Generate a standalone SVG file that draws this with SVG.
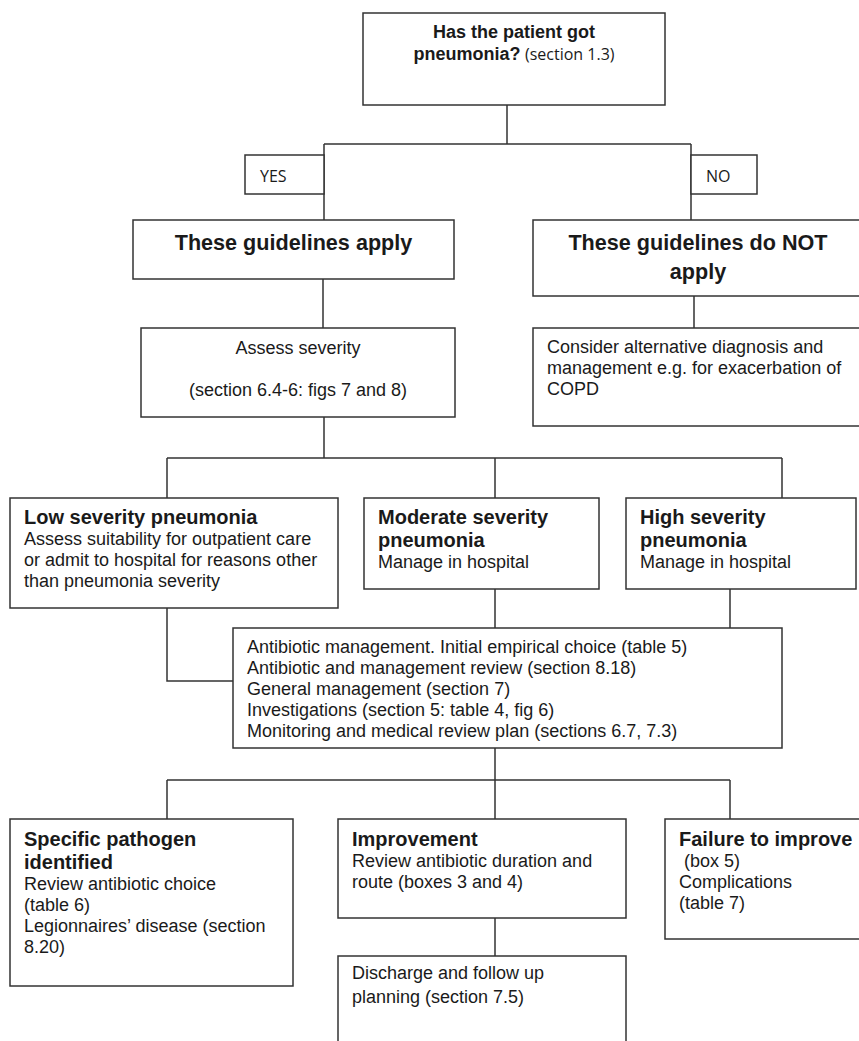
<svg xmlns="http://www.w3.org/2000/svg" width="859" height="1041" viewBox="0 0 859 1041">
<style>
.box{fill:#fff;stroke:#333;stroke-width:1.5}
.ln{fill:none;stroke:#333;stroke-width:1.5}
text{font-family:"Liberation Sans",Arial,sans-serif;fill:#1a1a1a}
.t{font-size:18px}
.h{font-size:20px;font-weight:bold}
.hb{font-size:21.6px;font-weight:bold}
.q{font-size:18px;font-weight:bold}
.c{font-family:"Open Sans","Liberation Sans",sans-serif;font-size:16px;font-weight:normal}
.m{text-anchor:middle}
</style>
<rect width="859" height="1041" fill="#fff"/>
<g id="connectors">
<path class="ln" d="M507,105V144M324,144H691M324,144V220M691,144V220"/>
<path class="ln" d="M323,279V328M694,296V328"/>
<path class="ln" d="M324,417V458M167,458H782M167,458V498M495,458V498M782,458V498"/>
<path class="ln" d="M495,589V628M730,589V628M167,608V681H233"/>
<path class="ln" d="M495,748V819M167,780H730M167,780V819M730,780V819"/>
<path class="ln" d="M495,918V956"/>
</g>
<g id="n-question">
<rect class="box" x="363" y="13" width="302" height="92"/>
<text class="q m" x="514" y="37.5">Has the patient got</text>
<text class="m" x="514" y="59.5"><tspan class="q">pneumonia?</tspan> <tspan class="c">(section 1.3)</tspan></text>
</g>
<g id="n-yes">
<rect class="box" x="245" y="155" width="79" height="39"/>
<text class="c" x="260" y="181.5">YES</text>
</g>
<g id="n-no">
<rect class="box" x="691" y="155" width="66" height="39"/>
<text class="c" x="706" y="181.5">NO</text>
</g>
<g id="n-apply">
<rect class="box" x="133" y="220" width="321" height="59"/>
<text class="hb m" x="293.5" y="249.5">These guidelines apply</text>
</g>
<g id="n-notapply">
<rect class="box" x="533" y="220" width="330" height="76"/>
<text class="hb m" x="698" y="249.5">These guidelines do NOT</text>
<text class="hb m" x="698" y="278.5">apply</text>
</g>
<g id="n-assess">
<rect class="box" x="141" y="328" width="314" height="89"/>
<text class="t m" x="298" y="354">Assess severity</text>
<text class="t m" x="298" y="396">(section 6.4-6: figs 7 and 8)</text>
</g>
<g id="n-alternative">
<rect class="box" x="533" y="328" width="330" height="98"/>
<text class="t" x="547" y="353">Consider alternative diagnosis and</text>
<text class="t" x="547" y="374">management e.g. for exacerbation of</text>
<text class="t" x="547" y="395">COPD</text>
</g>
<g id="n-low">
<rect class="box" x="10" y="498" width="328" height="110"/>
<text class="h" x="24" y="523.5">Low severity pneumonia</text>
<text class="t" x="24" y="544.5">Assess suitability for outpatient care</text>
<text class="t" x="24" y="565.5">or admit to hospital for reasons other</text>
<text class="t" x="24" y="586.5">than pneumonia severity</text>
</g>
<g id="n-moderate">
<rect class="box" x="364" y="498" width="235" height="91"/>
<text class="h" x="378" y="523.5">Moderate severity</text>
<text class="h" x="378" y="546.5">pneumonia</text>
<text class="t" x="378" y="567.5">Manage in hospital</text>
</g>
<g id="n-high">
<rect class="box" x="626" y="498" width="230" height="91"/>
<text class="h" x="640" y="523.5">High severity</text>
<text class="h" x="640" y="546.5">pneumonia</text>
<text class="t" x="640" y="567.5">Manage in hospital</text>
</g>
<g id="n-management">
<rect class="box" x="233" y="628" width="549" height="120"/>
<text class="t" x="247" y="653">Antibiotic management. Initial empirical choice (table 5)</text>
<text class="t" x="247" y="674">Antibiotic and management review (section 8.18)</text>
<text class="t" x="247" y="695">General management (section 7)</text>
<text class="t" x="247" y="716">Investigations (section 5: table 4, fig 6)</text>
<text class="t" x="247" y="737">Monitoring and medical review plan (sections 6.7, 7.3)</text>
</g>
<g id="n-pathogen">
<rect class="box" x="10" y="819" width="283" height="167"/>
<text class="h" x="24" y="845.5">Specific pathogen</text>
<text class="h" x="24" y="868.5">identified</text>
<text class="t" x="24" y="889.5">Review antibiotic choice</text>
<text class="t" x="24" y="910.5">(table 6)</text>
<text class="t" x="24" y="931.5">Legionnaires’ disease (section</text>
<text class="t" x="24" y="952.5">8.20)</text>
</g>
<g id="n-improvement">
<rect class="box" x="338" y="819" width="288" height="99"/>
<text class="h" x="352" y="845.5">Improvement</text>
<text class="t" x="352" y="866.5">Review antibiotic duration and</text>
<text class="t" x="352" y="887.5">route (boxes 3 and 4)</text>
</g>
<g id="n-failure">
<rect class="box" x="665" y="819" width="200" height="120"/>
<text class="h" x="679" y="845.5">Failure to improve</text>
<text class="t" x="679" y="866.5" xml:space="preserve"> (box 5)</text>
<text class="t" x="679" y="887.5">Complications</text>
<text class="t" x="679" y="908.5">(table 7)</text>
</g>
<g id="n-discharge">
<rect class="box" x="338" y="956" width="288" height="100"/>
<text class="t" x="352" y="979">Discharge and follow up</text>
<text class="t" x="352" y="1003">planning (section 7.5)</text>
</g>
</svg>
